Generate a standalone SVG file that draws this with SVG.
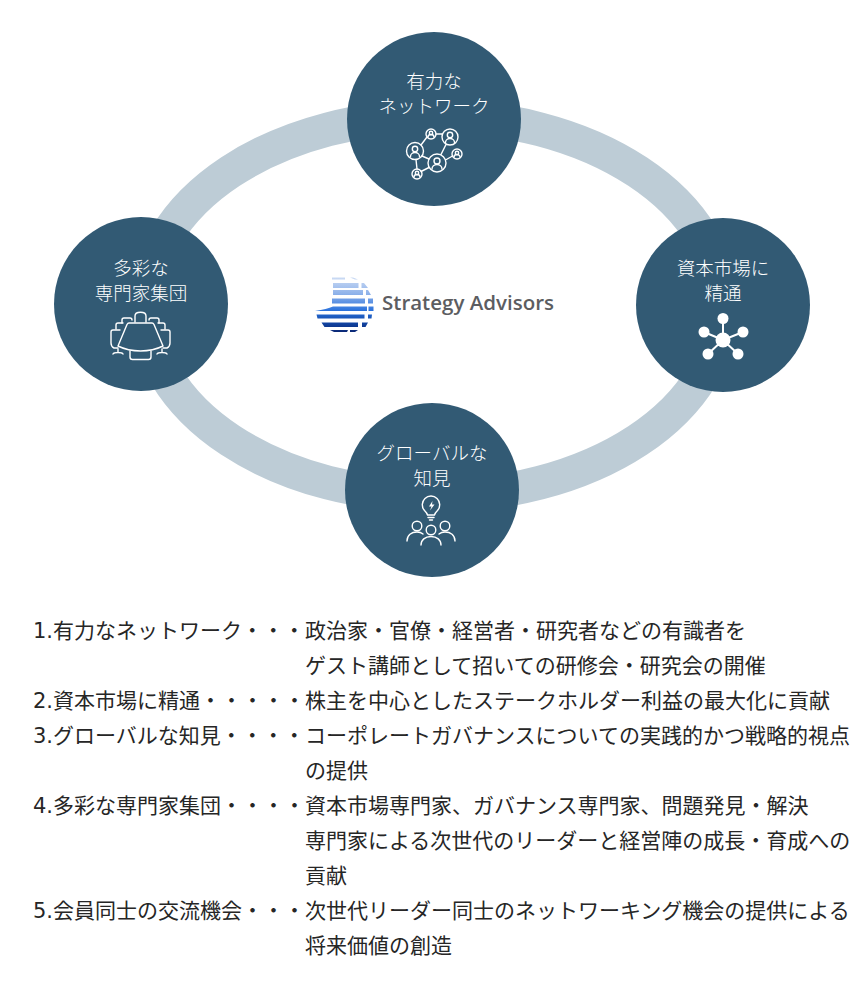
<svg xmlns="http://www.w3.org/2000/svg" width="860" height="1000" viewBox="0 0 860 1000">
<defs>
<style>
.c{fill:#325a74}
.n{font-family:"Noto Sans CJK JP","Noto Sans",sans-serif;font-size:18.5px;font-weight:300;fill:#fff;text-anchor:middle}
.t{font-family:"Noto Sans CJK JP","Noto Sans",sans-serif;font-size:21px;fill:#262626}
.d{font-family:"DejaVu Sans",sans-serif}
.i{fill:none;stroke:#fff;stroke-width:1.4;stroke-linecap:round;stroke-linejoin:round}
.f{fill:#fff}
.b{stroke:none}
</style>
<linearGradient id="g" gradientUnits="userSpaceOnUse" x1="0" y1="277" x2="0" y2="333">
<stop offset="0" stop-color="#cddcf4"/><stop offset=".3" stop-color="#8fb2ea"/><stop offset=".6" stop-color="#2a72dc"/><stop offset=".8" stop-color="#1248a8"/><stop offset="1" stop-color="#0a2470"/>
</linearGradient>
</defs>
<rect width="860" height="1000" fill="#fff"/>
<g id="connectors"><ellipse cx="434" cy="306" rx="288" ry="190" fill="none" stroke="#bdccd6" stroke-width="34"/></g>
<g id="node-network">
<circle class="c" cx="434" cy="119" r="87"/>
<text class="n" x="434" y="88">有力な</text><text class="n" x="434" y="112.500">ネットワーク</text>
<g class="i">
<circle cx="415" cy="151" r="8.500"/><circle cx="415" cy="149" r="2.700"/><path d="M410.500 156.500a4.500 4 0 0 1 9 0"/>
<circle cx="431" cy="134" r="5"/><circle cx="431" cy="133" r="1.700"/><path d="M428 137a3 2.500 0 0 1 6 0"/>
<circle cx="450" cy="137" r="8"/><circle cx="450" cy="135" r="2.700"/><path d="M445.500 142.500a4.500 4 0 0 1 9 0"/>
<circle cx="457" cy="154" r="5"/><circle cx="457" cy="153" r="1.700"/><path d="M454 157a3 2.500 0 0 1 6 0"/>
<circle cx="437" cy="163" r="9"/><circle cx="437" cy="161" r="3"/><path d="M432 169a5 4.500 0 0 1 10 0"/>
<circle cx="417" cy="174" r="5"/><circle cx="417" cy="173" r="1.700"/><path d="M414 177a3 2.500 0 0 1 6 0"/>
<path d="M421 145l6-8M436 134h6M446 144.500l-5 10M452.500 156l-7 4M416 159.500l1 9.500M421 171.500l8-4M422 156l7 3"/>
</g>
</g>
<g id="node-capital">
<circle class="c" cx="723" cy="305" r="87"/>
<text class="n" x="723" y="275">資本市場に</text><text class="n" x="723" y="299.500">精通</text>
<g class="f"><circle cx="723" cy="340" r="7.500"/><circle cx="723" cy="318.500" r="5.500"/><circle cx="704" cy="332" r="5.500"/><circle cx="743" cy="332" r="5.500"/><circle cx="708" cy="354" r="5.500"/><circle cx="738" cy="354" r="5.500"/></g>
<path d="M723 340V319M723 340L704 332M723 340L743 332M723 340L708 354M723 340L738 354" stroke="#fff" stroke-width="2" fill="none"/>
</g>
<g id="node-global">
<circle class="c" cx="432" cy="490" r="87"/>
<text class="n" x="432" y="460">グローバルな</text><text class="n" x="432" y="484.500">知見</text>
<g class="i">
<path d="M427.500 515c-.5-2-1.500-3-3-4.500a8.700 8.700 0 1 1 13 0c-1.500 1.500-2.500 2.500-3 4.500zM428 517.500h6M429.500 520h3"/>
<path class="f b" d="M432.500 501l-3.500 5.500h2.500l-1.500 4 4.500-6h-2.500z"/>
<circle cx="417" cy="526" r="4.800"/><circle cx="431" cy="530" r="4.800"/><circle cx="445" cy="526" r="4.800"/>
<path d="M407 541c0-6 4.500-9 10-9 2.500 0 4.500.7 6 2M455 541c0-6-4.500-9-10-9-2.500 0-4.500.7-6 2M421 545c0-5 4-8.500 10-8.500s10 3.500 10 8.500"/>
</g>
</g>
<g id="node-experts">
<circle class="c" cx="141" cy="304" r="87"/>
<text class="n" x="141" y="275">多彩な</text><text class="n" x="141" y="299.500">専門家集団</text>
<g class="i">
<path d="M129 323h23c1 0 1.500.5 2 1.500l9 21.500c-6 3-14 5-22.500 5s-16.500-2-22.500-5l9-21.500c.5-1 1-1.500 2-1.500z"/>
<path d="M135 322v-6c0-5 11-5 11 0v6"/>
<path d="M122 323v-3c0-1 1-2 2-2h6c1 0 2 1 2 2M159 323v-3c0-1-1-2-2-2h-6c-1 0-2 1-2 2"/>
<path d="M116 329v-4c0-1 1-2 2-2h5M165 329v-4c0-1-1-2-2-2h-5"/>
<path d="M120 330h-7c-1 0-2 1-2 2v11c0 2 1 4 3 5h4M161 330h7c1 0 2 1 2 2v11c0 2-1 4-3 5h-4"/>
<path d="M130 351v6c0 1.500 1 2.500 2.500 2.500h16c1.500 0 2.500-1 2.500-2.500v-6"/>
<path d="M118 349v3M113 354c1-2 9-2 10 0M162 349v3M157 354c1-2 9-2 10 0"/>
</g>
</g>
<g id="logo">
<g fill="url(#g)">
<path d="M332 277.500h13v2h-13zM333 283h25.500v5h-25.500zM333 290h30v5h-30zM332 298.500h33v5h-33zM315 311c8-1 14-3 18-4.500h34v4.500zM316.500 314.500h48v4h-47zM321.500 322.500h36.500v4.500h-33.500zM330 330h18l-1 2h-13z"/>
<path d="M350 277.500h3l5 2h-3zM361.500 283h2.500l4 5h-6.500zM366 290h2l3 5h-5zM368 298.500h5v5h-5zM368.500 306.500h5v4.500h-5zM368 314.500h4l-.5 4h-3.500zM362 322.500h6l-2.500 4.500h-3.500zM350 330h8l-3 2h-5z"/>
</g>
<text x="382" y="310" font-family="Open Sans,sans-serif" font-size="20.500" font-weight="600" fill="#5c5d61">Strategy Advisors</text>
</g>
<g id="list" class="t">
<text x="33" y="638"><tspan class="d">1.</tspan>有力なネットワーク・・・</text><text x="305" y="638">政治家・官僚・経営者・研究者などの有識者を</text>
<text x="305" y="673">ゲスト講師として招いての研修会・研究会の開催</text>
<text x="33" y="708"><tspan class="d">2.</tspan>資本市場に精通・・・・・</text><text x="305" y="708">株主を中心としたステークホルダー利益の最大化に貢献</text>
<text x="33" y="743"><tspan class="d">3.</tspan>グローバルな知見・・・・</text><text x="305" y="743">コーポレートガバナンスについての実践的かつ戦略的視点</text>
<text x="305" y="778">の提供</text>
<text x="33" y="813"><tspan class="d">4.</tspan>多彩な専門家集団・・・・</text><text x="305" y="813">資本市場専門家、ガバナンス専門家、問題発見・解決</text>
<text x="305" y="848">専門家による次世代のリーダーと経営陣の成長・育成への</text>
<text x="305" y="883">貢献</text>
<text x="33" y="918"><tspan class="d">5.</tspan>会員同士の交流機会・・・</text><text x="305" y="918">次世代リーダー同士のネットワーキング機会の提供による</text>
<text x="305" y="953">将来価値の創造</text>
</g>
</svg>
